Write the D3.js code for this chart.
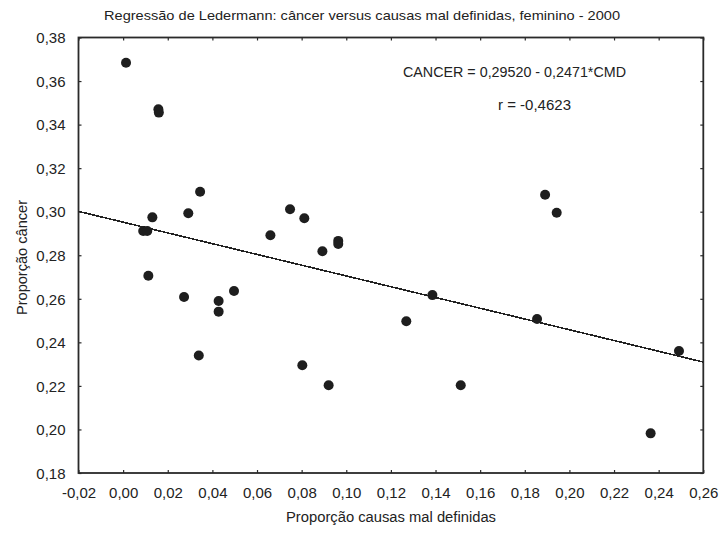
<!DOCTYPE html>
<html>
<head>
<meta charset="utf-8">
<script src="https://cdn.jsdelivr.net/npm/d3@7"></script>
<style>
  html, body { margin: 0; padding: 0; background: #fff; }
  svg { display: block; }
  text { font-family: "Liberation Sans", Arial, sans-serif; fill: #222; }
</style>
</head>
<body>
<svg id="chart" width="726" height="534"></svg>
<script>
// Proportion of ill-defined causes (x) and proportion of cancer deaths (y), female, 2000
const causasMalDefinidas = [
  0.0013, 0.0158, 0.0160, 0.0345, 0.0748, 0.0812, 0.0131, 0.0090, 0.0108, 0.0292,
  0.0113, 0.0273, 0.0428, 0.0428, 0.0497, 0.0339, 0.0660, 0.0803, 0.0893, 0.0964,
  0.0964, 0.1386, 0.1269, 0.0921, 0.1513, 0.1891, 0.1943, 0.1855, 0.2491, 0.2364
];
const cancer = [
  0.3684, 0.3470, 0.3455, 0.3092, 0.3011, 0.2970, 0.2974, 0.2911, 0.2911, 0.2993,
  0.2706, 0.2608, 0.2590, 0.2541, 0.2636, 0.2340, 0.2892, 0.2295, 0.2818, 0.2866,
  0.2852, 0.2617, 0.2497, 0.2203, 0.2203, 0.3078, 0.2995, 0.2507, 0.2360, 0.1982
];

// Fitted line: CANCER = intercept + slope * CMD
const intercept = 0.29520;
const slope = -0.2471;
const rValue = -0.4623;

const xTicks = [-0.02, 0.00, 0.02, 0.04, 0.06, 0.08, 0.10, 0.12, 0.14, 0.16, 0.18, 0.20, 0.22, 0.24, 0.26];
const yTicks = [0.18, 0.20, 0.22, 0.24, 0.26, 0.28, 0.30, 0.32, 0.34, 0.36, 0.38];

const titleText = "Regressão de Ledermann: câncer versus causas mal definidas, feminino - 2000";
const xTitle = "Proporção causas mal definidas";
const yTitle = "Proporção câncer";

const fmt = v => d3.format(".2f")(v).replace(".", ",").replace("−", "-");
const fmtCoef = (v, n) => Math.abs(v).toFixed(n).replace(".", ",");

const margin = { left: 78.5, right: 726 - 703.3, top: 37.5, bottom: 534 - 473 };
const W = 726, H = 534;

const svg = d3.select("#chart");

const x = d3.scaleLinear().domain([-0.02, 0.26]).range([margin.left, W - margin.right]);
const y = d3.scaleLinear().domain([0.18, 0.38]).range([H - margin.bottom, margin.top]);

const axisColor = "#2a2a2a";

// Inward ticks on all four sides
function styleAxis(g) {
  g.select(".domain").remove();
  g.selectAll(".tick line").attr("stroke", axisColor).attr("stroke-width", 1.2);
  g.selectAll(".tick text").style("font-size", "15px").attr("fill", "#222");
}

svg.append("g")
  .attr("transform", `translate(0,${y(0.18)})`)
  .call(d3.axisBottom(x).tickValues(xTicks).tickFormat(fmt).tickSizeInner(-3).tickSizeOuter(0).tickPadding(14))
  .call(styleAxis);

svg.append("g")
  .attr("transform", `translate(${x(-0.02)},0)`)
  .call(d3.axisLeft(y).tickValues(yTicks).tickFormat(fmt).tickSizeInner(-3).tickSizeOuter(0).tickPadding(13))
  .call(styleAxis)
  .selectAll(".tick text").attr("dy", "0.35em");

svg.append("g")
  .attr("transform", `translate(0,${y(0.38)})`)
  .call(d3.axisTop(x).tickValues(xTicks).tickFormat("").tickSizeInner(-3).tickSizeOuter(0))
  .call(styleAxis);

svg.append("g")
  .attr("transform", `translate(${x(0.26)},0)`)
  .call(d3.axisRight(y).tickValues(yTicks).tickFormat("").tickSizeInner(-3).tickSizeOuter(0))
  .call(styleAxis);

// Plot frame
svg.append("rect")
  .attr("x", x(-0.02)).attr("y", y(0.38))
  .attr("width", x(0.26) - x(-0.02)).attr("height", y(0.18) - y(0.38))
  .attr("fill", "none").attr("stroke", axisColor).attr("stroke-width", 1.8);

// Regression line, rendered aliased so it steps pixel by pixel
const xs = d3.range(0, 201).map(i => -0.02 + i * 0.28 / 200);
svg.append("path")
  .datum(xs)
  .attr("fill", "none")
  .attr("stroke", "#222")
  .attr("stroke-width", 1.6)
  .attr("shape-rendering", "crispEdges")
  .attr("d", d3.line().x(d => x(d)).y(d => y(intercept + slope * d)));

// Data points
svg.append("g")
  .selectAll("circle")
  .data(causasMalDefinidas.map((v, i) => ({ cmd: v, can: cancer[i] })))
  .join("circle")
  .attr("cx", d => x(d.cmd))
  .attr("cy", d => y(d.can))
  .attr("r", 5)
  .attr("fill", "#1e1e1e");

// Equation and correlation
svg.append("text")
  .attr("x", 514.5).attr("y", 76.5)
  .attr("text-anchor", "middle")
  .attr("textLength", 223).attr("lengthAdjust", "spacingAndGlyphs")
  .style("font-size", "14px")
  .text(`CANCER = ${fmtCoef(intercept, 5)} - ${fmtCoef(slope, 4)}*CMD`);

svg.append("text")
  .attr("x", 534.5).attr("y", 110)
  .attr("text-anchor", "middle")
  .attr("textLength", 73).attr("lengthAdjust", "spacingAndGlyphs")
  .style("font-size", "14px")
  .text(`r = -${fmtCoef(rValue, 4)}`);

// Titles
svg.append("text")
  .attr("x", 362).attr("y", 19.5)
  .attr("text-anchor", "middle")
  .attr("textLength", 516).attr("lengthAdjust", "spacingAndGlyphs")
  .style("font-size", "13.5px")
  .text(titleText);

svg.append("text")
  .attr("x", 391).attr("y", 522)
  .attr("text-anchor", "middle")
  .attr("textLength", 210).attr("lengthAdjust", "spacingAndGlyphs")
  .style("font-size", "14px")
  .text(xTitle);

svg.append("text")
  .attr("transform", `translate(26.5,257.5) rotate(-90)`)
  .attr("text-anchor", "middle")
  .attr("textLength", 115).attr("lengthAdjust", "spacingAndGlyphs")
  .style("font-size", "14px")
  .text(yTitle);
</script>
</body>
</html>
